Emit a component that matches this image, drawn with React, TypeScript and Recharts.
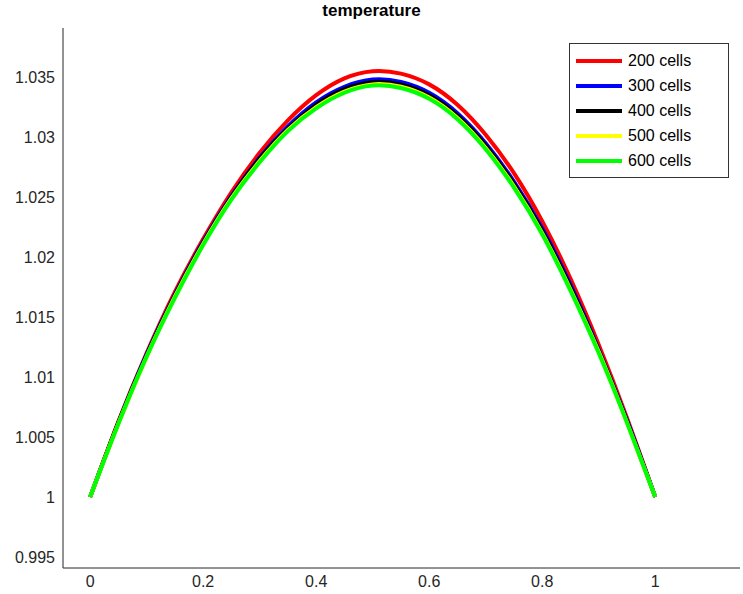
import { LineChart, Line, XAxis, YAxis } from "recharts";

const xs = [0, 0.05, 0.1, 0.15, 0.2, 0.25, 0.3, 0.35, 0.4, 0.45, 0.5, 0.55, 0.6, 0.65, 0.7, 0.75, 0.8, 0.85, 0.9, 0.95, 1];
const cells200 = [1.0, 1.0063, 1.012, 1.0171, 1.0215, 1.0254, 1.0287, 1.0314, 1.0335, 1.0349, 1.0355, 1.0353, 1.0344, 1.0327, 1.0302, 1.027, 1.023, 1.0182, 1.0127, 1.0066, 1.0];
const cells300 = [1.0, 1.0062, 1.0119, 1.0169, 1.0213, 1.0251, 1.0283, 1.0309, 1.0329, 1.0342, 1.0348, 1.0346, 1.0337, 1.032, 1.0295, 1.0263, 1.0224, 1.0177, 1.0123, 1.0064, 1.0];
const cells400 = [1.0, 1.0062, 1.0118, 1.0168, 1.0212, 1.025, 1.0282, 1.0307, 1.0327, 1.034, 1.0346, 1.0344, 1.0335, 1.0318, 1.0293, 1.0261, 1.0222, 1.0175, 1.0122, 1.0063, 1.0];
const cells500 = [1.0, 1.0061, 1.0117, 1.0167, 1.0211, 1.0249, 1.028, 1.0306, 1.0325, 1.0338, 1.0344, 1.0342, 1.0333, 1.0316, 1.0291, 1.0259, 1.022, 1.0173, 1.0121, 1.0062, 1.0];
const cells600 = [1.0, 1.0061, 1.0117, 1.0166, 1.021, 1.0248, 1.0279, 1.0305, 1.0324, 1.0337, 1.0343, 1.0341, 1.0332, 1.0315, 1.029, 1.0258, 1.0219, 1.0172, 1.012, 1.0062, 1.0];

const xTicks = [0, 0.2, 0.4, 0.6, 0.8, 1];
const yTicks = [0.995, 1, 1.005, 1.01, 1.015, 1.02, 1.025, 1.03, 1.035];

const series = [
  { key: "c200", name: "200 cells", color: "#ff0000", values: cells200 },
  { key: "c300", name: "300 cells", color: "#0000ff", values: cells300 },
  { key: "c400", name: "400 cells", color: "#000000", values: cells400 },
  { key: "c500", name: "500 cells", color: "#ffff00", values: cells500 },
  { key: "c600", name: "600 cells", color: "#00ff00", values: cells600 },
];

const data = xs.map((x, i) => {
  const row: Record<string, number> = { x };
  series.forEach((s) => (row[s.key] = s.values[i]));
  return row;
});

const font = "Arial, 'Liberation Sans', sans-serif";

export default function App() {
  return (
    <div style={{ position: "absolute", left: 0, top: 0, width: 743, height: 594, background: "#fff" }}>
      <div style={{ position: "absolute", top: 1, width: 743, textAlign: "center", fontFamily: font, fontWeight: "bold", fontSize: 17 }}>
        temperature
      </div>
      <LineChart width={743} height={594} data={data} margin={{ top: 28, right: 3, bottom: 0, left: 0 }}>
        <XAxis
          dataKey="x"
          type="number"
          domain={[-0.048, 1.15]}
          ticks={xTicks}
          tickFormatter={(v) => String(v)}
          tickLine={false}
          height={26}
          stroke="#262626"
          tick={{ fill: "#262626", fontSize: 16, fontFamily: font }}
          allowDataOverflow
        />
        <YAxis
          type="number"
          domain={[0.99408, 1.0391]}
          ticks={yTicks}
          tickFormatter={(v) => String(Number(v.toFixed(3)))}
          tickLine={false}
          width={63}
          stroke="#262626"
          tick={{ fill: "#262626", fontSize: 16, fontFamily: font }}
          allowDataOverflow
        />
        {series.map((s) => (
          <Line
            key={s.key}
            dataKey={s.key}
            name={s.name}
            stroke={s.color}
            strokeWidth={4}
            dot={false}
            type="natural"
            isAnimationActive={false}
          />
        ))}
      </LineChart>
      <div style={{ position: "absolute", top: 43, left: 569, border: "1px solid #333", background: "#fff", width: 158, padding: "4px 0", fontFamily: font, fontSize: 16 }}>
        {series.map((s) => (
          <div key={s.key} style={{ display: "flex", alignItems: "center", height: 25 }}>
            <div style={{ width: 46, height: 4, background: s.color, marginLeft: 6, marginRight: 6 }} />
            <span>{s.name}</span>
          </div>
        ))}
      </div>
    </div>
  );
}
